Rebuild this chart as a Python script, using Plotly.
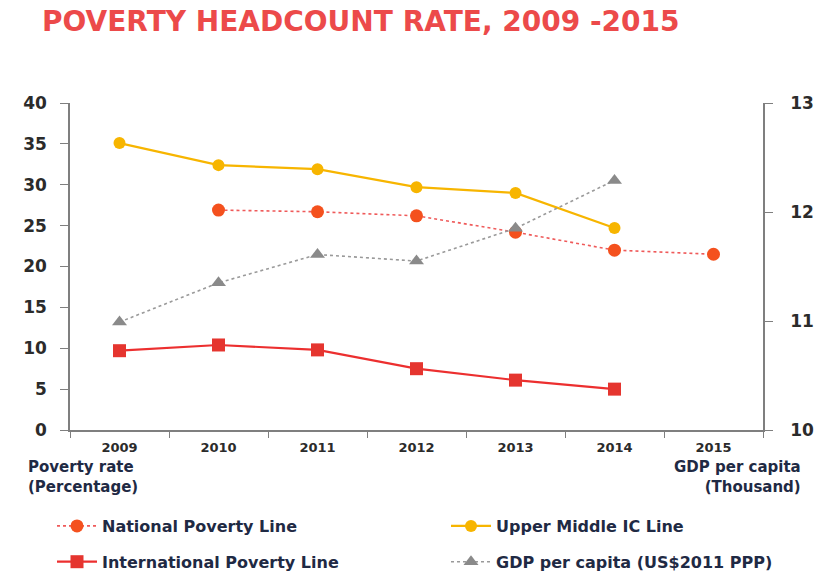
import plotly.graph_objects as go

years = ["2009", "2010", "2011", "2012", "2013", "2014", "2015"]

national_years = ["2010", "2011", "2012", "2013", "2014", "2015"]
national_rate = [26.9, 26.7, 26.2, 24.2, 22.0, 21.5]

upper_middle_years = ["2009", "2010", "2011", "2012", "2013", "2014"]
upper_middle_rate = [35.1, 32.4, 31.9, 29.7, 29.0, 24.7]

international_years = ["2009", "2010", "2011", "2012", "2013", "2014"]
international_rate = [9.7, 10.4, 9.8, 7.5, 6.1, 5.0]

gdp_years = ["2009", "2010", "2011", "2012", "2013", "2014"]
gdp_per_capita = [10.99, 11.35, 11.61, 11.55, 11.85, 12.29]

left_ticks = [0, 5, 10, 15, 20, 25, 30, 35, 40]
right_ticks = [10, 11, 12, 13]

W, H = 838, 576
L, R, T, B = 70, 763, 103, 430  # plot area in pixels


def px_x(x):
    return (x - L) / (R - L)


def px_y(y):
    return (B - y) / (B - T)


text_font = "DejaVu Sans"
dark = "#2b2b2b"
navy = "#1f2a44"

fig = go.Figure()

fig.add_trace(go.Scatter(
    x=national_years, y=national_rate, name="National Poverty Line",
    mode="lines+markers", legend="legend", legendgroup="a",
    line=dict(color="#ef5a5a", width=1.6, dash="dot"),
    marker=dict(symbol="circle", size=13, color="#f4511e"),
))
fig.add_trace(go.Scatter(
    x=international_years, y=international_rate, name="International Poverty Line",
    mode="lines+markers", legend="legend", legendgroup="b",
    line=dict(color="#ec2f2f", width=2.2),
    marker=dict(symbol="square", size=13, color="#e5352f"),
))
fig.add_trace(go.Scatter(
    x=upper_middle_years, y=upper_middle_rate, name="Upper Middle IC Line",
    mode="lines+markers", legend="legend2", legendgroup="c",
    line=dict(color="#f7b500", width=2.2),
    marker=dict(symbol="circle", size=12, color="#f7b500"),
))
fig.add_trace(go.Scatter(
    x=gdp_years, y=gdp_per_capita, name="GDP per capita (US$2011 PPP)",
    mode="lines+markers", yaxis="y2", legend="legend2", legendgroup="d",
    line=dict(color="#9a9a9a", width=1.6, dash="dot"),
    marker=dict(symbol="triangle-up", size=13, color="#8a8a8a"),
))

legend_style = dict(
    orientation="v",
    xref="container", yref="container",
    yanchor="top", y=1 - 509 / H,
    xanchor="left",
    itemwidth=40,
    traceorder="grouped",
    tracegroupgap=12,
    font=dict(family=text_font, size=16, color=navy, weight="bold"),
    bgcolor="rgba(0,0,0,0)",
)

axis_line = dict(
    showgrid=False, zeroline=False,
    showline=True, linecolor="#7f7f7f", linewidth=1.5,
    ticks="outside", tickcolor="#7f7f7f",
)

fig.update_layout(
    width=W, height=H,
    paper_bgcolor="white", plot_bgcolor="white",
    margin=dict(l=L, r=W - R, t=T, b=H - B, autoexpand=False),
    title=dict(
        text="<b>POVERTY HEADCOUNT RATE, 2009 -2015</b>",
        x=42 / W, xanchor="left", xref="container",
        y=1 - 21 / H, yanchor="middle", yref="container",
        font=dict(family=text_font, size=28, color="#ec4a4a"),
    ),
    xaxis=dict(
        axis_line,
        type="category", categoryorder="array", categoryarray=years,
        range=[-0.5, 6.5],
        ticklen=6, tickson="boundaries", ticklabelstandoff=5,
        tickfont=dict(family=text_font, size=13, color=dark, weight="bold"),
    ),
    yaxis=dict(
        axis_line,
        range=[0, 40], tickvals=left_ticks,
        ticklen=8, ticklabelstandoff=10,
        tickfont=dict(family=text_font, size=17, color=dark, weight="bold"),
    ),
    yaxis2=dict(
        axis_line,
        overlaying="y", side="right",
        range=[10, 13], tickvals=right_ticks,
        ticklen=8, ticklabelstandoff=14,
        tickfont=dict(family=text_font, size=17, color=dark, weight="bold"),
    ),
    showlegend=True,
    legend=dict(legend_style, x=52 / W),
    legend2=dict(legend_style, x=446 / W),
)

fig.add_annotation(
    text="<b>Poverty rate<br>(Percentage)</b>",
    xref="paper", yref="paper", x=px_x(26), y=px_y(456),
    xanchor="left", yanchor="top", align="left", showarrow=False,
    font=dict(family=text_font, size=15, color=navy),
)
fig.add_annotation(
    text="<b>GDP per capita<br>(Thousand)</b>",
    xref="paper", yref="paper", x=px_x(803), y=px_y(456),
    xanchor="right", yanchor="top", align="right", showarrow=False,
    font=dict(family=text_font, size=15, color=navy),
)

fig.write_html("out.html")
